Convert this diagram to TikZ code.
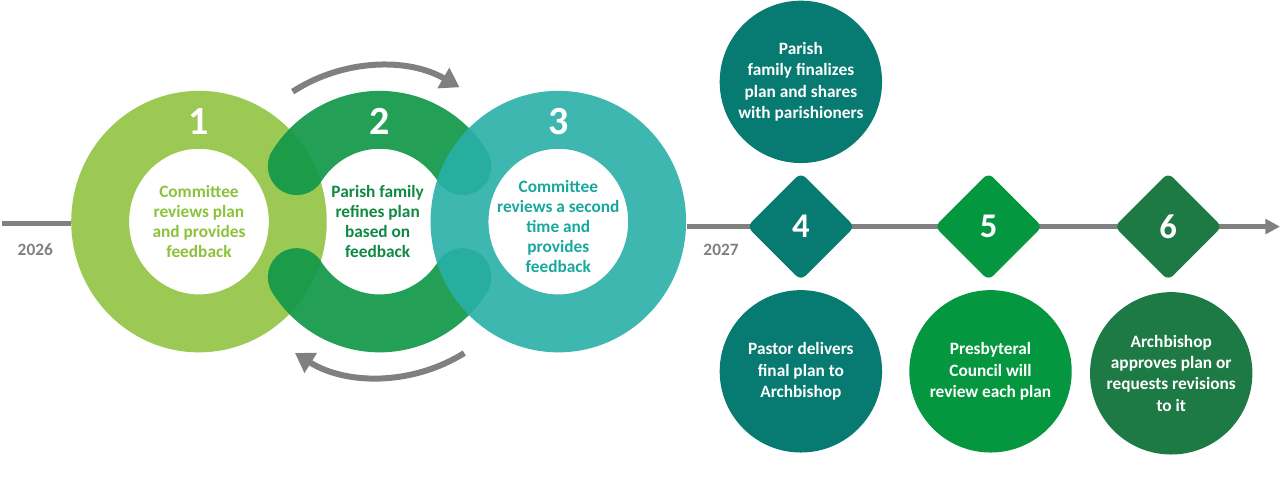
\documentclass[tikz,border=0pt]{standalone}
\usepackage{fontspec}
\setmainfont{Carlito}
\usetikzlibrary{shapes.geometric,arrows.meta}
\definecolor{ringA}{RGB}{155,201,83}
\definecolor{ringB}{RGB}{18,152,72}
\definecolor{ringC}{RGB}{40,176,168}
\definecolor{txtA}{RGB}{140,194,60}
\definecolor{txtB}{RGB}{16,138,66}
\definecolor{txtC}{RGB}{24,168,158}
\definecolor{tealD}{RGB}{7,122,114}
\definecolor{greenM}{RGB}{5,151,64}
\definecolor{greenD}{RGB}{30,122,68}
\definecolor{lineG}{RGB}{128,128,128}
\tikzset{
  ring/.style={line width=43.5pt},
  ringtxt/.style={align=center,font=\bfseries\fontsize{13}{15}\selectfont},
  ringnum/.style={text=white,font=\bfseries\fontsize{30}{30}\selectfont},
  stepbox/.style={diamond,fill=#1,minimum size=81pt,rounded corners=5pt,inner sep=0pt,text=white,font=\bfseries\fontsize{26}{26}\selectfont},
  stepcirc/.style={circle,fill=#1,minimum size=122pt,inner sep=2pt,align=center,text=white,font=\bfseries\fontsize{13}{16}\selectfont},
  year/.style={text=lineG,font=\bfseries\fontsize{13}{13}\selectfont},
  cyc/.style={lineG,line width=4.5pt,-{Triangle[length=14pt,width=17pt]}}
}
\begin{document}
\begin{tikzpicture}[x=0.75pt,y=0.75pt,yscale=-1,xscale=1]
\path[fill=white] (0,0) rectangle (1284,480);

% rings
\coordinate (c1) at (197,222);
\coordinate (c2) at (378,222);
\coordinate (c3) at (557,222);
\draw[ring,ringA] (c1) ellipse [x radius=99, y radius=102];
\draw[ring,ringB,opacity=0.92,line cap=round] ([shift={(213:99 and 102)}]c2) arc[start angle=213,end angle=327,x radius=99,y radius=102];
\draw[ring,ringB,opacity=0.92,line cap=round] ([shift={(147:99 and 102)}]c2) arc[start angle=147,end angle=33,x radius=99,y radius=102];
\draw[ring,ringC,opacity=0.9] (c3) ellipse [x radius=99, y radius=102];

% timeline
\coordinate (t0) at (0,224);
\coordinate (t1) at (69,224);
\coordinate (t2) at (686,227);
\coordinate (tend) at (1280,227);
\draw[lineG,line width=3.5pt] (t0) -- (t1);
\draw[lineG,line width=3.5pt,-{Triangle[length=11pt,width=11pt]}] (t2) -- (tend);
\node[year] (y1) at (33,250) {2026};
\node[year] (y2) at (720,250) {2027};

% cycle arrows
\draw[cyc] ([shift={(237:160)}]378,226) arc[start angle=237,end angle=300,radius=160];
\draw[cyc] ([shift={(58:160)}]378,218) arc[start angle=58,end angle=122,radius=160];

\node[ringnum] (n1) at (197,122) {1};
\node[ringnum] (n2) at (378,122) {2};
\node[ringnum] (n3) at (557,122) {3};
\node[ringtxt,text=txtA] (s1) at (197,222) {Committee\\reviews plan\\and provides\\feedback};
\node[ringtxt,text=txtB] (s2) at (376,222) {Parish family\\refines plan\\based on\\feedback};
\node[ringtxt,text=txtC] (s3) at (557,227) {Committee\\reviews a second\\time and\\provides\\feedback};

% steps
\node[stepbox=tealD] (d4) at (800,227) {4};
\node[stepbox=greenM] (d5) at (988,227) {5};
\node[stepbox=greenD] (d6) at (1168,227) {6};
\node[stepcirc=tealD] (top4) at (800,82) {Parish\\family finalizes\\plan and shares\\with parishioners};
\node[stepcirc=tealD] (b4) at (800,372) {Pastor delivers\\final plan to\\Archbishop};
\node[stepcirc=greenM] (b5) at (990,372) {Presbyteral\\Council will\\review each plan};
\node[stepcirc=greenD] (b6) at (1171,374) {Archbishop\\approves plan or\\requests revisions\\to it};
\end{tikzpicture}
\end{document}
